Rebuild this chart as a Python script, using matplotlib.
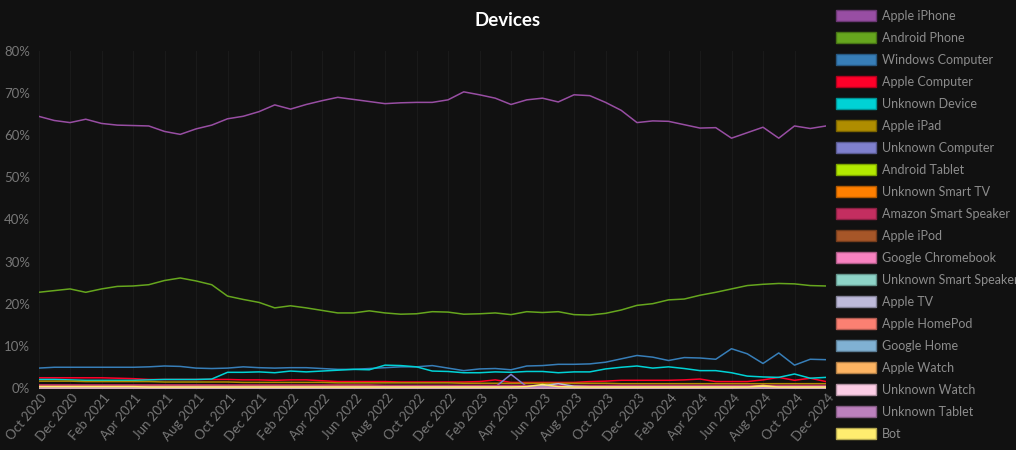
import numpy as np
import matplotlib.pyplot as plt
import matplotlib.colors as mcolors
import matplotlib.transforms as mtransforms
from matplotlib.patches import Patch

# ------------------------------------------------
# Data: monthly share of sessions by device (%), Oct 2020 .. Dec 2024
# ------------------------------------------------
months = ["Oct 2020", "Nov 2020", "Dec 2020", "Jan 2021", "Feb 2021", "Mar 2021",
          "Apr 2021", "May 2021", "Jun 2021", "Jul 2021", "Aug 2021", "Sep 2021",
          "Oct 2021", "Nov 2021", "Dec 2021", "Jan 2022", "Feb 2022", "Mar 2022",
          "Apr 2022", "May 2022", "Jun 2022", "Jul 2022", "Aug 2022", "Sep 2022",
          "Oct 2022", "Nov 2022", "Dec 2022", "Jan 2023", "Feb 2023", "Mar 2023",
          "Apr 2023", "May 2023", "Jun 2023", "Jul 2023", "Aug 2023", "Sep 2023",
          "Oct 2023", "Nov 2023", "Dec 2023", "Jan 2024", "Feb 2024", "Mar 2024",
          "Apr 2024", "May 2024", "Jun 2024", "Jul 2024", "Aug 2024", "Sep 2024",
          "Oct 2024", "Nov 2024", "Dec 2024"]

apple_iphone = [64.5, 63.5, 63.0, 63.8, 62.8, 62.4, 62.3, 62.2, 60.9, 60.2, 61.5, 62.4, 63.9,
                64.5, 65.6, 67.2, 66.2, 67.3, 68.2, 69.0, 68.5, 68.0, 67.5, 67.7, 67.8, 67.8,
                68.4, 70.3, 69.6, 68.8, 67.3, 68.4, 68.8, 67.9, 69.6, 69.4, 67.8, 65.9, 63.0,
                63.4, 63.3, 62.5, 61.7, 61.8, 59.3, 60.6, 61.9, 59.3, 62.2, 61.6, 62.2]
android_phone = [22.7, 23.1, 23.5, 22.7, 23.5, 24.1, 24.2, 24.5, 25.5, 26.1, 25.4, 24.5, 21.8,
                 21.0, 20.3, 19.0, 19.5, 19.0, 18.4, 17.8, 17.8, 18.3, 17.8, 17.5, 17.6, 18.1,
                 18.0, 17.5, 17.6, 17.8, 17.4, 18.1, 17.9, 18.1, 17.4, 17.3, 17.7, 18.5, 19.6,
                 20.0, 20.9, 21.1, 22.0, 22.7, 23.5, 24.3, 24.6, 24.8, 24.7, 24.3, 24.2]
windows_computer = [4.7, 4.9, 4.9, 4.9, 4.9, 4.9, 4.9, 5.0, 5.2, 5.1, 4.7, 4.6, 4.7,
                    5.0, 4.8, 4.7, 4.8, 4.8, 4.6, 4.4, 4.4, 4.6, 4.8, 5.0, 5.0, 5.3,
                    4.7, 4.1, 4.5, 4.6, 4.3, 5.2, 5.3, 5.6, 5.6, 5.7, 6.1, 6.9, 7.7,
                    7.3, 6.5, 7.2, 7.1, 6.8, 9.3, 8.1, 5.8, 8.3, 5.4, 6.8, 6.7]
apple_computer = [2.4, 2.4, 2.4, 2.4, 2.4, 2.3, 2.2, 2.0, 2.0, 2.0, 2.0, 2.0, 2.0,
                  1.9, 1.9, 1.8, 1.9, 1.9, 1.7, 1.5, 1.5, 1.5, 1.5, 1.4, 1.4, 1.4,
                  1.4, 1.4, 1.5, 1.9, 1.3, 1.3, 1.3, 1.3, 1.3, 1.5, 1.6, 1.8, 1.8,
                  1.8, 1.8, 1.9, 2.1, 1.5, 1.5, 1.5, 1.9, 2.5, 1.8, 2.3, 1.5]
unknown_device = [2.0, 2.0, 1.9, 1.8, 1.8, 1.8, 1.8, 1.9, 2.0, 2.0, 2.0, 2.1, 3.7,
                  3.7, 3.8, 3.6, 4.0, 3.8, 4.0, 4.2, 4.4, 4.3, 5.4, 5.3, 5.0, 4.0,
                  3.9, 3.6, 3.6, 3.8, 3.7, 3.9, 3.9, 3.6, 3.8, 3.8, 4.5, 4.9, 5.2,
                  4.7, 5.0, 4.6, 4.1, 4.1, 3.6, 2.8, 2.6, 2.5, 3.3, 2.3, 2.5]
apple_ipad = [1.6, 1.6, 1.6, 1.5, 1.5, 1.5, 1.5, 1.5, 1.4, 1.4, 1.4, 1.4, 1.4,
              1.3, 1.3, 1.3, 1.3, 1.3, 1.3, 1.2, 1.2, 1.2, 1.2, 1.2, 1.2, 1.2,
              1.2, 1.1, 1.1, 1.1, 1.1, 1.1, 1.1, 1.1, 1.1, 1.1, 1.1, 1.0, 1.0,
              1.0, 1.0, 1.0, 1.0, 1.0, 1.0, 1.0, 1.0, 1.0, 1.0, 1.0, 1.0]
unknown_computer = [0.6, 0.6, 0.6, 0.6, 0.6, 0.6, 0.6, 0.6, 0.6, 0.6, 0.6, 0.6, 0.5,
                    0.5, 0.5, 0.5, 0.5, 0.5, 0.5, 0.5, 0.5, 0.4, 0.4, 0.4, 0.4, 0.4,
                    0.4, 0.3, 0.3, 0.2, 3.2, 0.3, 0.3, 0.3, 0.3, 0.3, 0.3, 0.3, 0.3,
                    0.3, 0.3, 0.3, 0.3, 0.3, 0.3, 0.3, 0.3, 0.3, 0.3, 0.3, 0.3]
android_tablet = [0.5, 0.5, 0.5, 0.5, 0.5, 0.5, 0.5, 0.5, 0.4, 0.4, 0.4, 0.4, 0.4,
                  0.4, 0.4, 0.4, 0.4, 0.4, 0.4, 0.4, 0.3, 0.3, 0.3, 0.3, 0.3, 0.3,
                  0.3, 0.3, 0.3, 0.3, 0.3, 0.3, 0.3, 0.3, 0.3, 0.3, 0.3, 0.3, 0.3,
                  0.3, 0.3, 0.3, 0.3, 0.3, 0.3, 0.3, 0.3, 0.3, 0.3, 0.3, 0.3]
unknown_smart_tv = [0.4, 0.4, 0.4, 0.4, 0.4, 0.4, 0.4, 0.4, 0.4, 0.4, 0.4, 0.4, 0.4,
                    0.4, 0.4, 0.4, 0.4, 0.4, 0.4, 0.4, 0.4, 0.4, 0.4, 0.4, 0.4, 0.4,
                    0.4, 0.4, 0.4, 0.4, 0.4, 0.4, 0.4, 0.4, 0.4, 0.4, 0.4, 0.4, 0.4,
                    0.4, 0.4, 0.4, 0.4, 0.4, 0.4, 0.4, 0.4, 0.4, 0.4, 0.4, 0.4]
amazon_smart_speaker = [0.7, 0.7, 0.7, 0.7, 0.7, 0.7, 0.7, 0.7, 0.7, 0.7, 0.7, 0.7, 0.7,
                        0.7, 0.7, 0.7, 0.7, 0.7, 0.7, 0.7, 0.7, 0.7, 0.6, 0.6, 0.6, 0.6,
                        0.6, 0.6, 0.6, 0.6, 0.6, 0.6, 0.6, 0.6, 0.6, 0.6, 0.6, 0.6, 0.6,
                        0.6, 0.6, 0.6, 0.6, 0.6, 0.6, 0.6, 0.6, 0.6, 0.6, 0.6, 0.6]
apple_ipod = [0.2, 0.2, 0.2, 0.2, 0.2, 0.2, 0.2, 0.2, 0.2, 0.2, 0.2, 0.2, 0.2,
              0.2, 0.2, 0.2, 0.2, 0.2, 0.2, 0.2, 0.2, 0.2, 0.2, 0.2, 0.2, 0.2,
              0.2, 0.2, 0.2, 0.2, 0.2, 0.2, 0.2, 0.2, 0.2, 0.2, 0.2, 0.2, 0.2,
              0.2, 0.2, 0.2, 0.2, 0.2, 0.2, 0.2, 0.2, 0.2, 0.2, 0.2, 0.2]
google_chromebook = [0.3, 0.3, 0.3, 0.3, 0.3, 0.3, 0.3, 0.3, 0.3, 0.3, 0.3, 0.3, 0.3,
                     0.3, 0.3, 0.3, 0.3, 0.3, 0.3, 0.3, 0.3, 0.3, 0.3, 0.3, 0.3, 0.3,
                     0.3, 0.3, 0.3, 0.3, 0.3, 0.3, 0.3, 0.3, 0.3, 0.3, 0.3, 0.3, 0.3,
                     0.3, 0.3, 0.3, 0.3, 0.3, 0.3, 0.3, 0.3, 0.3, 0.3, 0.3, 0.3]
unknown_smart_speaker = [0.1, 0.1, 0.1, 0.1, 0.1, 0.1, 0.1, 0.1, 0.1, 0.1, 0.1, 0.1, 0.1,
                         0.1, 0.1, 0.1, 0.1, 0.1, 0.1, 0.1, 0.1, 0.1, 0.1, 0.1, 0.1, 0.1,
                         0.1, 0.1, 0.1, 0.1, 0.1, 0.1, 0.1, 0.1, 0.1, 0.1, 0.1, 0.1, 0.1,
                         0.1, 0.1, 0.1, 0.1, 0.1, 0.1, 0.1, 0.1, 0.1, 0.1, 0.1, 0.1]
apple_tv = [0.3, 0.3, 0.3, 0.3, 0.3, 0.3, 0.3, 0.3, 0.3, 0.3, 0.3, 0.3, 0.3,
            0.3, 0.3, 0.3, 0.3, 0.3, 0.3, 0.3, 0.3, 0.3, 0.3, 0.3, 0.3, 0.3,
            0.3, 0.3, 0.3, 0.3, 0.3, 0.3, 0.5, 1.0, 0.4, 0.3, 0.3, 0.3, 0.3,
            0.3, 0.3, 0.3, 0.3, 0.3, 0.3, 0.3, 0.3, 0.3, 0.3, 0.3, 0.3]
apple_homepod = [0.2, 0.2, 0.2, 0.2, 0.2, 0.2, 0.2, 0.2, 0.2, 0.2, 0.2, 0.2, 0.2,
                 0.2, 0.2, 0.2, 0.2, 0.2, 0.2, 0.2, 0.2, 0.2, 0.2, 0.2, 0.2, 0.2,
                 0.2, 0.2, 0.2, 0.2, 0.2, 0.2, 0.2, 0.2, 0.2, 0.2, 0.2, 0.2, 0.2,
                 0.2, 0.2, 0.2, 0.2, 0.2, 0.2, 0.2, 0.2, 0.2, 0.2, 0.2, 0.2]
google_home = [0.2, 0.2, 0.2, 0.2, 0.2, 0.2, 0.2, 0.2, 0.2, 0.2, 0.2, 0.2, 0.2,
               0.2, 0.2, 0.2, 0.2, 0.2, 0.2, 0.2, 0.2, 0.2, 0.2, 0.2, 0.2, 0.2,
               0.2, 0.2, 0.2, 0.2, 0.2, 0.2, 0.2, 0.2, 0.2, 0.2, 0.2, 0.2, 0.2,
               0.2, 0.2, 0.2, 0.2, 0.2, 0.2, 0.2, 0.2, 0.2, 0.2, 0.2, 0.2]
apple_watch = [0.1, 0.1, 0.1, 0.1, 0.1, 0.1, 0.1, 0.1, 0.1, 0.1, 0.1, 0.1, 0.1,
               0.1, 0.1, 0.1, 0.1, 0.1, 0.1, 0.1, 0.1, 0.1, 0.1, 0.1, 0.1, 0.1,
               0.1, 0.1, 0.1, 0.1, 0.1, 0.1, 0.1, 0.1, 0.1, 0.1, 0.1, 0.1, 0.1,
               0.1, 0.1, 0.1, 0.1, 0.1, 0.1, 0.2, 0.6, 0.2, 0.1, 0.1, 0.1]
unknown_watch = [0.05, 0.05, 0.05, 0.05, 0.05, 0.05, 0.05, 0.05, 0.05, 0.05, 0.05, 0.05, 0.05,
                 0.05, 0.05, 0.05, 0.05, 0.05, 0.05, 0.05, 0.05, 0.05, 0.05, 0.05, 0.05, 0.05,
                 0.05, 0.05, 0.05, 0.05, 0.05, 0.05, 0.05, 0.05, 0.05, 0.05, 0.05, 0.05, 0.05,
                 0.05, 0.05, 0.05, 0.05, 0.05, 0.05, 0.05, 0.05, 0.05, 0.05, 0.05, 0.05]
unknown_tablet = [0.1, 0.1, 0.1, 0.1, 0.1, 0.1, 0.1, 0.1, 0.1, 0.1, 0.1, 0.1, 0.1,
                  0.1, 0.1, 0.1, 0.1, 0.1, 0.1, 0.1, 0.1, 0.1, 0.1, 0.1, 0.1, 0.1,
                  0.1, 0.1, 0.1, 0.1, 0.1, 0.1, 0.1, 0.1, 0.1, 0.1, 0.1, 0.1, 0.1,
                  0.1, 0.1, 0.1, 0.1, 0.1, 0.1, 0.1, 0.1, 0.1, 0.1, 0.1, 0.1]
bot = [0.3, 0.3, 0.3, 0.3, 0.3, 0.3, 0.3, 0.2, 0.2, 0.2, 0.2, 0.2, 0.2,
       0.2, 0.2, 0.2, 0.2, 0.2, 0.2, 0.2, 0.2, 0.2, 0.2, 0.2, 0.2, 0.2,
       0.2, 0.2, 0.2, 0.2, 0.2, 0.3, 0.8, 0.3, 0.2, 0.2, 0.2, 0.2, 0.2,
       0.2, 0.2, 0.2, 0.2, 0.2, 0.2, 0.2, 0.4, 0.2, 0.2, 0.2, 0.2]

device_names = ["Apple iPhone", "Android Phone", "Windows Computer", "Apple Computer",
                "Unknown Device", "Apple iPad", "Unknown Computer", "Android Tablet",
                "Unknown Smart TV", "Amazon Smart Speaker", "Apple iPod", "Google Chromebook",
                "Unknown Smart Speaker", "Apple TV", "Apple HomePod", "Google Home",
                "Apple Watch", "Unknown Watch", "Unknown Tablet", "Bot"]
device_series = [apple_iphone, android_phone, windows_computer, apple_computer,
                 unknown_device, apple_ipad, unknown_computer, android_tablet,
                 unknown_smart_tv, amazon_smart_speaker, apple_ipod, google_chromebook,
                 unknown_smart_speaker, apple_tv, apple_homepod, google_home,
                 apple_watch, unknown_watch, unknown_tablet, bot]
device_colors = ["#984ea3", "#66a61e", "#377eb8", "#ff0029", "#00d2d5", "#af8d00",
                 "#7f80cd", "#b3e900", "#ff7f00", "#c42e60", "#a65628", "#f781bf",
                 "#8dd3c7", "#bebada", "#fb8072", "#80b1d3", "#fdb462", "#fccde5",
                 "#bc80bd", "#ffed6f"]

# ------------------------------------------------
# Plot
# ------------------------------------------------
plt.rcParams['font.family'] = ['Lato', 'DejaVu Sans']
bg = '#111111'

fig = plt.figure(figsize=(10.16, 4.5), dpi=100, facecolor=bg)
ax = fig.add_axes([38.5/1016, 1 - 390/450, (826 - 38.5)/1016, (390 - 51)/450])
ax.set_facecolor(bg)

x = np.arange(len(months))
for name, vals, col in zip(device_names, device_series, device_colors):
    ax.plot(x, np.array(vals) / 100.0, color=col, lw=1.1, label=name)

ax.set_xlim(0, len(months) - 1)
ax.set_ylim(-0.005, 0.8)
ax.set_yticks(np.arange(0, 0.81, 0.1))
ax.set_yticklabels([f"{int(round(v*100))}%" for v in np.arange(0, 0.81, 0.1)])
ax.set_xticks(x[::2])

ax.tick_params(colors='#777777', labelsize=9.5, length=0)
ax.tick_params(axis='x', pad=4)
ax.tick_params(axis='y', pad=6)
ax.grid(axis='x', color='#1a1a1a', lw=0.8)
ax.grid(axis='y', visible=False)
for s in ax.spines.values():
    s.set_visible(False)

ax.set_xticklabels(months[::2], rotation=50, ha='right', va='center',
                   rotation_mode='anchor')
# nudge the slanted month labels so their ends sit just right of each tick
# (done after tick_params, which would otherwise reset the transforms)
shift = mtransforms.ScaledTranslation(6/100, 0, fig.dpi_scale_trans)
for lbl in ax.get_xticklabels():
    lbl.set_transform(lbl.get_transform() + shift)

fig.text(0.5, 1 - 20/450, "Devices", color='white', fontsize=13.5, fontweight='bold',
         ha='center', va='center')

handles = [Patch(facecolor=c, edgecolor=np.array(mcolors.to_rgb(c)) * 0.7, lw=1.0,
                 label=n) for n, c in zip(device_names, device_colors)]
leg = fig.legend(handles=handles, loc='upper left', bbox_to_anchor=(836/1016, 1 - 9.5/450),
                 frameon=False, fontsize=9.0, labelcolor='#8c8c8c',
                 handlelength=3.2, handleheight=1.05, handletextpad=0.48,
                 labelspacing=0.795, borderpad=0, borderaxespad=0)

fig.savefig("out.png", dpi=100, facecolor=bg)
